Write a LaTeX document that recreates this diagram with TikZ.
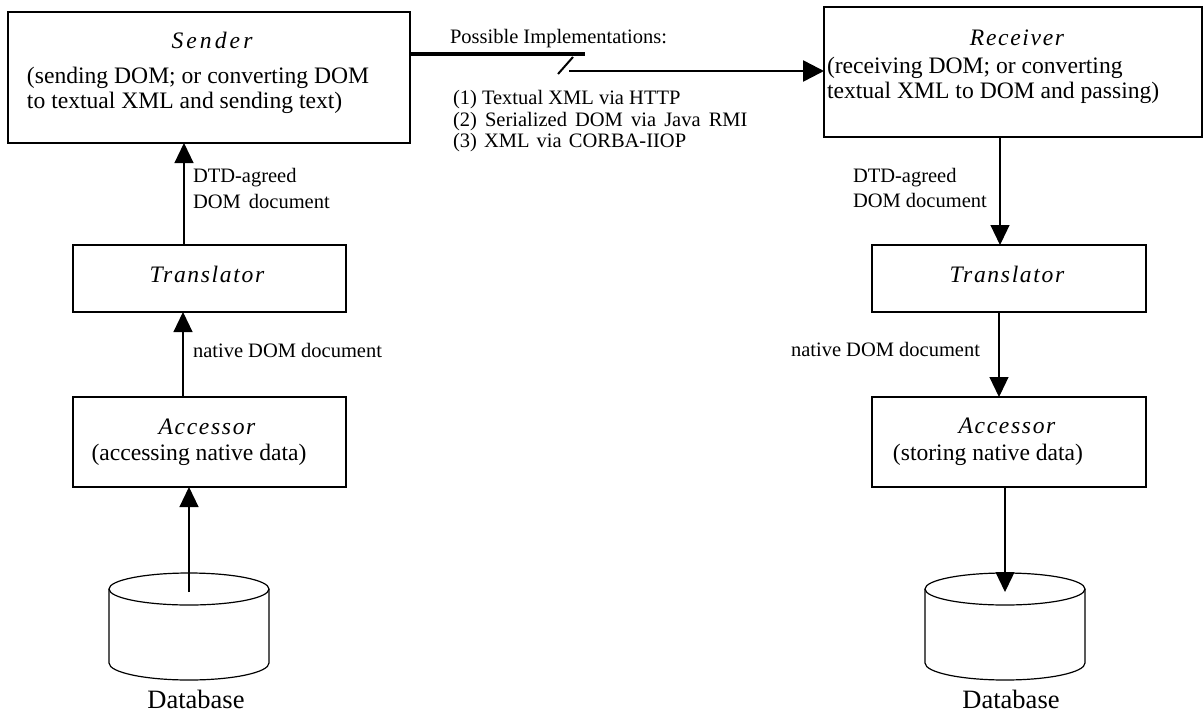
\documentclass[tikz,border=0pt]{standalone}
\usepackage{fontspec}
\setmainfont{Liberation Serif}
\usetikzlibrary{arrows.meta}
\newcommand{\boxfont}{\fontsize{23.6}{28}\selectfont}
\newcommand{\titlefnt}[1]{\fontsize{23.6}{28}\selectfont\itshape\addfontfeature{LetterSpace=#1}}
\newcommand{\labfont}{\fontsize{20.5}{24}\selectfont}
\newcommand{\dbfont}{\fontsize{26.5}{30}\selectfont}
\begin{document}
\begin{tikzpicture}[x=1pt,y=-1pt,
  blk/.style={draw, line width=1.2pt, inner sep=0pt, outer sep=0pt},
  txt/.style={inner sep=0pt, outer sep=0pt},
  arr/.style={line width=1.2pt, -{Triangle[length=20pt,width=19pt]}},
  bigarr/.style={line width=2.5pt, -{Triangle[length=21pt,width=21pt]}},
  cyl/.style={line width=1.2pt}]
\useasboundingbox (0,0) rectangle (1204,713);
% boxes
\node[blk, minimum width=402pt, minimum height=131pt] (sender) at (209,77.5) {};
\node[blk, minimum width=378pt, minimum height=130pt] (receiver) at (1013,72) {};
\node[blk, minimum width=273pt, minimum height=67pt] (transL) at (209.5,278.5) {};
\node[blk, minimum width=273pt, minimum height=90pt] (accL) at (209.5,442) {};
\node[blk, minimum width=274pt, minimum height=67pt] (transR) at (1009,278.5) {};
\node[blk, minimum width=274pt, minimum height=90pt] (accR) at (1009,442) {};
% box texts
\node[txt, anchor=base] (senderT) at (212,48) {\titlefnt{13}Sender};
\node[txt, anchor=base west] (senderA) at (27,83) {\boxfont (sending DOM; or converting DOM};
\node[txt, anchor=base west] (senderB) at (27,108) {\boxfont to textual XML and sending text)};
\node[txt, anchor=base] (receiverT) at (1017,45) {\titlefnt{7}Receiver};
\node[txt, anchor=base west] (receiverA) at (827,73) {\boxfont (receiving DOM; or converting};
\node[txt, anchor=base west] (receiverB) at (827,98) {\boxfont textual XML to DOM and passing)};
\node[txt, anchor=base] (transLT) at (207,282) {\titlefnt{7}Translator};
\node[txt, anchor=base] (transRT) at (1007,282) {\titlefnt{7}Translator};
\node[txt, anchor=base] (accLT) at (207,434) {\titlefnt{7}Accessor};
\node[txt, anchor=base] (accLS) at (199,460) {\boxfont (accessing native data)};
\node[txt, anchor=base] (accRT) at (1007,433) {\titlefnt{7}Accessor};
\node[txt, anchor=base] (accRS) at (988,460) {\boxfont (storing native data)};
% labels
\node[txt, anchor=base west] (lblL1) at (193,182) {\labfont DTD-agreed};
\node[txt, anchor=base west] (lblL2) at (193,208) {\labfont DOM\hspace{3pt} document};
\node[txt, anchor=base west] (lblL3) at (193,357) {\labfont native DOM document};
\node[txt, anchor=base west] (lblR1) at (853,182) {\labfont DTD-agreed};
\node[txt, anchor=base west] (lblR2) at (853,207) {\labfont DOM document};
\node[txt, anchor=base west] (lblR3) at (791,356) {\labfont native DOM document};
\node[txt, anchor=base west] (poss) at (450,43) {\labfont Possible Implementations:};
\node[txt, anchor=base west] (impl1) at (453,104) {\labfont (1) Textual XML via HTTP};
\node[txt, anchor=base west] (impl2) at (453,126) {\labfont (2)\hspace{3pt} Serialized\hspace{3pt} DOM\hspace{3pt} via\hspace{3pt} Java\hspace{3pt} RMI};
\node[txt, anchor=base west] (impl3) at (453,147) {\labfont (3)\hspace{2pt} XML\hspace{2pt} via\hspace{2pt} CORBA-IIOP};
\node[txt, anchor=base] (dbLT) at (196,708) {\dbfont Database};
\node[txt, anchor=base] (dbRT) at (1011,708) {\dbfont Database};
% databases
\draw[cyl] (189,589) ellipse [x radius=80, y radius=16];
\draw[cyl] (109,589) -- (109,663) arc[start angle=180, end angle=0, x radius=80, y radius=17] -- (269,589);
\coordinate (dbL) at (189,592);
\draw[cyl] (1005,589) ellipse [x radius=80, y radius=16];
\draw[cyl] (925,589) -- (925,663) arc[start angle=180, end angle=0, x radius=80, y radius=17] -- (1085,589);
\coordinate (dbR) at (1005,592);
% x positions of vertical connectors
\coordinate (xa) at (184,0);
\coordinate (xb) at (183,0);
\coordinate (xc) at (1000,0);
\coordinate (xd) at (999,0);
% vertical connectors
\draw[arr] (transL.north -| xa) -- (sender.south -| xa);
\draw[arr] (accL.north -| xb) -- (transL.south -| xb);
\draw[arr] (dbL) -- (accL.south -| dbL);
\draw[arr] (receiver.south -| xc) -- (transR.north -| xc);
\draw[arr] (transR.south -| xd) -- (accR.north -| xd);
\draw[arr] (accR.south -| dbR) -- (dbR);
% top broken connector
\coordinate (brkA) at (585,54);
\coordinate (brkB) at (569,71);
\coordinate (slA) at (558,74);
\coordinate (slB) at (573,57);
\draw[line width=4pt] (sender.east |- brkA) -- (brkA);
\draw[line width=2pt] (slA) -- (slB);
\draw[bigarr] (brkB) -- (receiver.west |- brkB);
\end{tikzpicture}
\end{document}
